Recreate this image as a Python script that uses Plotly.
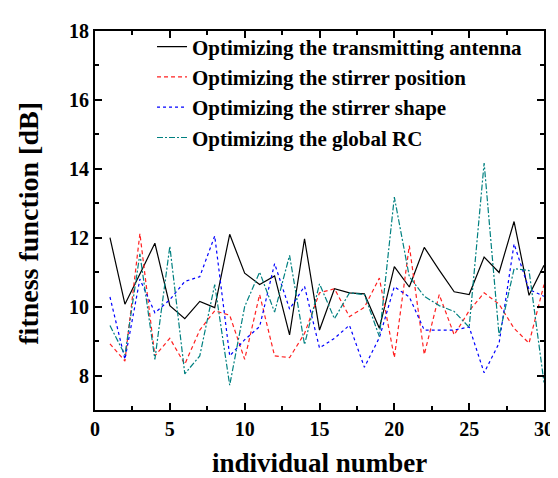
import plotly.graph_objects as go

individual = list(range(1, 31))

antenna = [12.0, 10.07, 10.95, 11.84, 10.03, 9.65, 10.15, 9.97, 12.1, 10.97,
           10.64, 10.89, 9.18, 11.97, 9.32, 10.52, 10.40, 10.37, 9.37, 11.16,
           10.57, 11.72, 11.06, 10.43, 10.35, 11.44, 10.99, 12.47, 10.33, 11.2]

stirrer_position = [8.92, 8.42, 12.12, 8.57, 9.08, 8.33, 9.32, 9.88, 9.75, 8.47,
                    10.35, 8.57, 8.52, 9.22, 10.40, 10.52, 9.71, 9.98, 10.83, 8.52,
                    11.77, 8.61, 10.35, 9.18, 9.88, 10.40, 10.07, 9.37, 8.94, 10.64]

stirrer_shape = [10.28, 8.47, 10.8, 9.82, 10.2, 10.73, 10.87, 12.05, 8.57, 9.04,
                 9.42, 11.25, 9.93, 10.59, 8.80, 9.08, 9.46, 8.24, 9.10, 10.58,
                 10.28, 9.32, 9.32, 9.32, 9.41, 8.08, 8.94, 11.82, 10.5, 10.3]

global_rc = [9.45, 8.6, 11.53, 8.47, 11.75, 8.05, 8.57, 10.64, 7.72, 10.0,
             11.0, 9.84, 11.49, 8.9, 10.66, 9.65, 10.40, 10.35, 9.13, 13.18,
             10.87, 10.3, 10.03, 9.86, 9.4, 14.17, 9.15, 11.1, 11.05, 7.8]

names = ["Optimizing the transmitting antenna",
         "Optimizing the stirrer position",
         "Optimizing the stirrer shape",
         "Optimizing the global RC"]

FONT = "Liberation Serif"

fig = go.Figure()
series = [antenna, stirrer_position, stirrer_shape, global_rc]
styles = [("black", "solid"), ("#FF2020", "4px,3px"), ("#0000FF", "dot"), ("#008080", "6px,2px,2px,2px")]
for vals, name, (col, dash) in zip(series, names, styles):
    fig.add_trace(go.Scatter(x=individual, y=vals, mode="lines", name=name,
                             line=dict(color=col, width=1.2, dash=dash)))

axis_common = dict(showline=True, linecolor="black", linewidth=2, mirror="ticks",
                   ticks="inside", ticklen=7, tickwidth=1.5, tickcolor="black",
                   showgrid=False, zeroline=False,
                   tickfont=dict(family=FONT, size=20, color="black", weight="bold"))

fig.update_xaxes(range=[0, 30], tickvals=[0, 5, 10, 15, 20, 25, 30],
                 minor=dict(ticks="inside", ticklen=4, tickwidth=1.5, tickcolor="black",
                            tickvals=[2.5, 7.5, 12.5, 17.5, 22.5, 27.5]),
                 **axis_common)
fig.update_yaxes(range=[7, 18], tickvals=[8, 10, 12, 14, 16, 18],
                 minor=dict(ticks="inside", ticklen=4, tickwidth=1.5, tickcolor="black",
                            tickvals=[7, 9, 11, 13, 15, 17]),
                 **axis_common)

fig.add_annotation(text="individual number", xref="paper", yref="paper",
                   x=0.5, y=-0.139, xanchor="center", yanchor="middle", showarrow=False,
                   font=dict(family=FONT, size=27, color="black", weight="bold"))
fig.add_annotation(text="fitness function [dB]", xref="paper", yref="paper",
                   x=-0.148, y=0.493, xanchor="center", yanchor="middle", showarrow=False,
                   textangle=-90,
                   font=dict(family=FONT, size=28, color="black", weight="bold"))

fig.update_layout(
    width=558, height=478,
    margin=dict(l=87, r=12, t=13, b=76),
    paper_bgcolor="white", plot_bgcolor="white",
    showlegend=True,
    legend=dict(x=0.127, y=1.012, xanchor="left", yanchor="top",
                bgcolor="rgba(0,0,0,0)", borderwidth=0,
                font=dict(family=FONT, size=21, color="black", weight="bold"),
                tracegroupgap=0),
)

fig.write_html("out.html")
